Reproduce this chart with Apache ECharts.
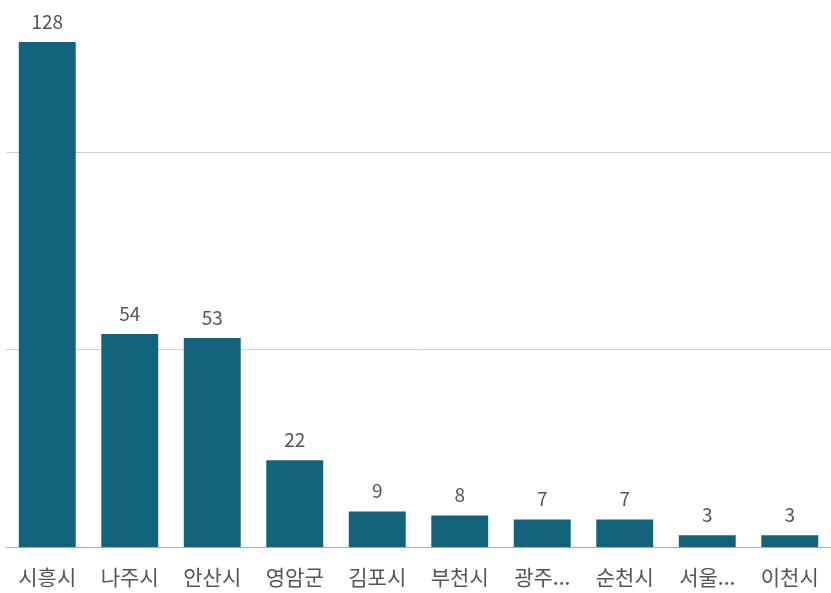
<!DOCTYPE html>
<html><head><meta charset="utf-8">
<script src="https://cdn.jsdelivr.net/npm/echarts@6/dist/echarts.min.js"></script>
<style>html,body{margin:0;padding:0;background:#fff}#c{width:831px;height:593px}</style>
</head><body><div id="c"></div>
<script>
const categories = ['시흥시','나주시','안산시','영암군','김포시','부천시','광주...','순천시','서울...','이천시'];
const values = [128,54,53,22,9,8,7,7,3,3];
const chart = echarts.init(document.getElementById('c'));
chart.setOption({
  animation:false,
  grid:{left:6,right:0,top:42,bottom:46,containLabel:false},
  xAxis:{type:'category',data:categories,
    axisLine:{lineStyle:{color:'#aaa'}},axisTick:{show:false},
    axisLabel:{color:'#555',fontSize:21,fontFamily:'Noto Sans CJK KR',margin:20,interval:0}},
  yAxis:{type:'value',min:0,max:128,interval:50,axisLabel:{show:false},
    axisLine:{show:false},axisTick:{show:false},
    splitLine:{showMaxLine:false,lineStyle:{color:'#d0d0d0'}}},
  series:[{type:'bar',data:values,barCategoryGap:'31%',
    itemStyle:{color:'#14637d'},
    label:{show:true,position:'top',distance:11,color:'#555',fontSize:19,fontFamily:'Noto Sans CJK KR'}}]
});
</script></body></html>
